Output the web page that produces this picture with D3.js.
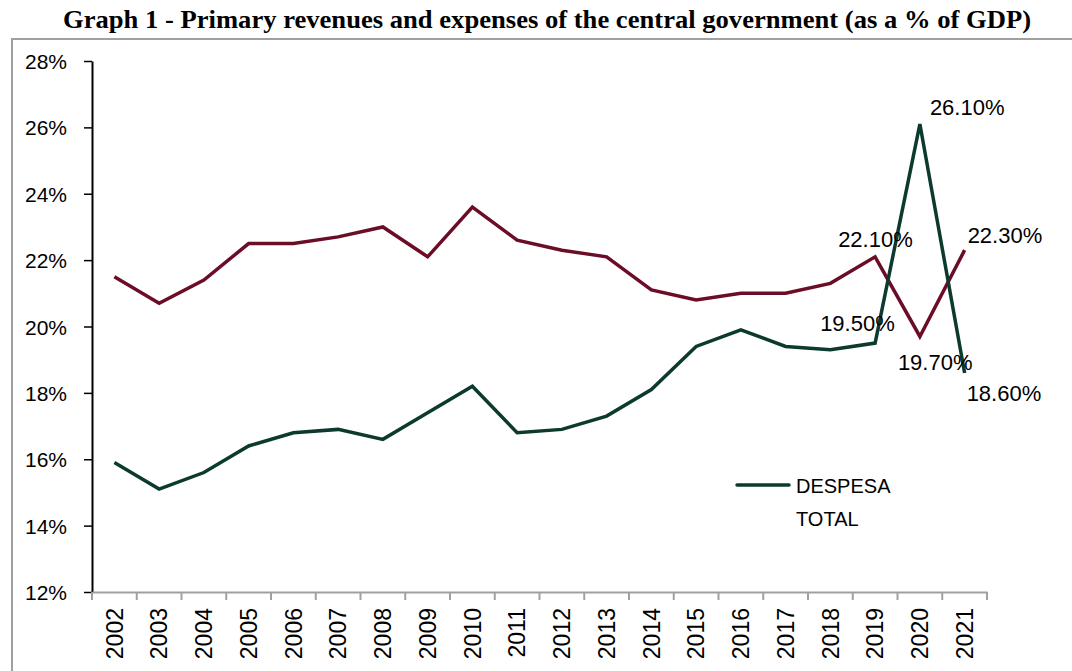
<!DOCTYPE html>
<html>
<head>
<meta charset="utf-8">
<script src="https://cdn.jsdelivr.net/npm/d3@7"></script>
<style>
  html, body { margin: 0; padding: 0; background: #fff; }
  svg { display: block; }
  .lbl { font-family: "Liberation Sans", Arial, sans-serif; fill: #000; }
</style>
</head>
<body>
<svg id="chart" width="1072" height="671"></svg>
<script>
// Central government primary revenue and expense, % of GDP
const years = ["2002","2003","2004","2005","2006","2007","2008","2009","2010","2011",
               "2012","2013","2014","2015","2016","2017","2018","2019","2020","2021"];
const receita = [21.5, 20.7, 21.4, 22.5, 22.5, 22.7, 23.0, 22.1, 23.6, 22.6,
                 22.3, 22.1, 21.1, 20.8, 21.0, 21.0, 21.3, 22.1, 19.7, 22.3];
const despesa = [15.9, 15.1, 15.6, 16.4, 16.8, 16.9, 16.6, 17.4, 18.2, 16.8,
                 16.9, 17.3, 18.1, 19.4, 19.9, 19.4, 19.3, 19.5, 26.1, 18.6];
const yTicks = [12, 14, 16, 18, 20, 22, 24, 26, 28];
const titleText = "Graph 1 - Primary revenues and expenses of the central government (as a % of GDP)";
const legendLines = ["DESPESA", "TOTAL"];

const svg = d3.select("#chart");
const margin = { left: 92, right: 85, top: 61, bottom: 79 };
const W = 1072, H = 671;

const x = d3.scaleBand().domain(years).range([margin.left, W - margin.right]);
const y = d3.scaleLinear().domain([12, 28]).range([H - margin.bottom, margin.top]);
const cx = d => x(d) + x.bandwidth() / 2;

// frame
svg.append("path")
  .attr("d", `M12,${H} L12,39 L${W},39`)
  .attr("fill", "none").attr("stroke", "#a0a0a0").attr("stroke-width", 2);

// title
svg.append("text")
  .attr("x", 547).attr("y", 28)
  .attr("text-anchor", "middle")
  .attr("font-family", "'Liberation Serif', 'Times New Roman', serif")
  .attr("font-weight", "bold").attr("font-size", 25)
  .attr("textLength", 968).attr("lengthAdjust", "spacingAndGlyphs")
  .text(titleText);

// y axis
const yAxis = svg.append("g")
  .attr("transform", `translate(${margin.left},0)`)
  .call(d3.axisLeft(y).tickValues(yTicks).tickFormat(d => d + "%").tickSize(8).tickPadding(17).tickSizeOuter(0));
yAxis.select(".domain").attr("stroke", "#000").attr("stroke-width", 2);
yAxis.selectAll(".tick line").attr("stroke", "#000").attr("stroke-width", 1.5);
yAxis.selectAll(".tick text").attr("class", "lbl").attr("font-size", 21).attr("dy", "0.36em");

// x axis
const xAxis = svg.append("g")
  .attr("transform", `translate(0,${y(12)})`)
  .call(d3.axisBottom(x).tickSize(0).tickSizeOuter(0));
xAxis.select(".domain").attr("stroke", "#a0a0a0").attr("stroke-width", 2);
xAxis.selectAll(".tick text")
  .attr("class", "lbl")
  .attr("font-size", 23)
  .attr("transform", "rotate(-90)")
  .attr("text-anchor", "end")
  .attr("x", -16).attr("y", 0).attr("dy", "0.36em");
// boundary ticks between categories
const bounds = years.map(d => x(d)).concat([W - margin.right]);
xAxis.selectAll(".bound").data(bounds).enter().append("line")
  .attr("x1", d => d).attr("x2", d => d)
  .attr("y1", 0).attr("y2", 8)
  .attr("stroke", "#a0a0a0").attr("stroke-width", 2);

// lines
const line = d3.line().x((d, i) => cx(years[i])).y(d => y(d));
svg.append("path").datum(receita)
  .attr("d", line).attr("fill", "none")
  .attr("stroke", "#6b0d27").attr("stroke-width", 3.5).attr("stroke-linejoin", "miter");
svg.append("path").datum(despesa)
  .attr("d", line).attr("fill", "none")
  .attr("stroke", "#0c3a2f").attr("stroke-width", 3.5).attr("stroke-linejoin", "miter");

// value labels for the last three years
const fmt = v => v.toFixed(2) + "%";
const labels = [
  { s: despesa, i: 17, dx: -55, dy: -12 },
  { s: despesa, i: 18, dx: 10, dy: -9 },
  { s: despesa, i: 19, dx: 2, dy: 28 },
  { s: receita, i: 17, dx: -37, dy: -10 },
  { s: receita, i: 18, dx: -22, dy: 34 },
  { s: receita, i: 19, dx: 3, dy: -7 }
];
svg.selectAll(".val").data(labels).enter().append("text")
  .attr("class", "lbl")
  .attr("font-size", 22)
  .attr("x", d => cx(years[d.i]) + d.dx)
  .attr("y", d => y(d.s[d.i]) + d.dy)
  .text(d => fmt(d.s[d.i]));

// legend
svg.append("line")
  .attr("x1", 737).attr("x2", 789).attr("y1", 485).attr("y2", 485)
  .attr("stroke", "#0c3a2f").attr("stroke-width", 3.5).attr("stroke-linecap", "round");
svg.selectAll(".leg").data(legendLines).enter().append("text")
  .attr("class", "lbl")
  .attr("font-size", 20)
  .attr("x", 796).attr("y", (d, i) => 493 + i * 33)
  .text(d => d);
</script>
</body>
</html>
